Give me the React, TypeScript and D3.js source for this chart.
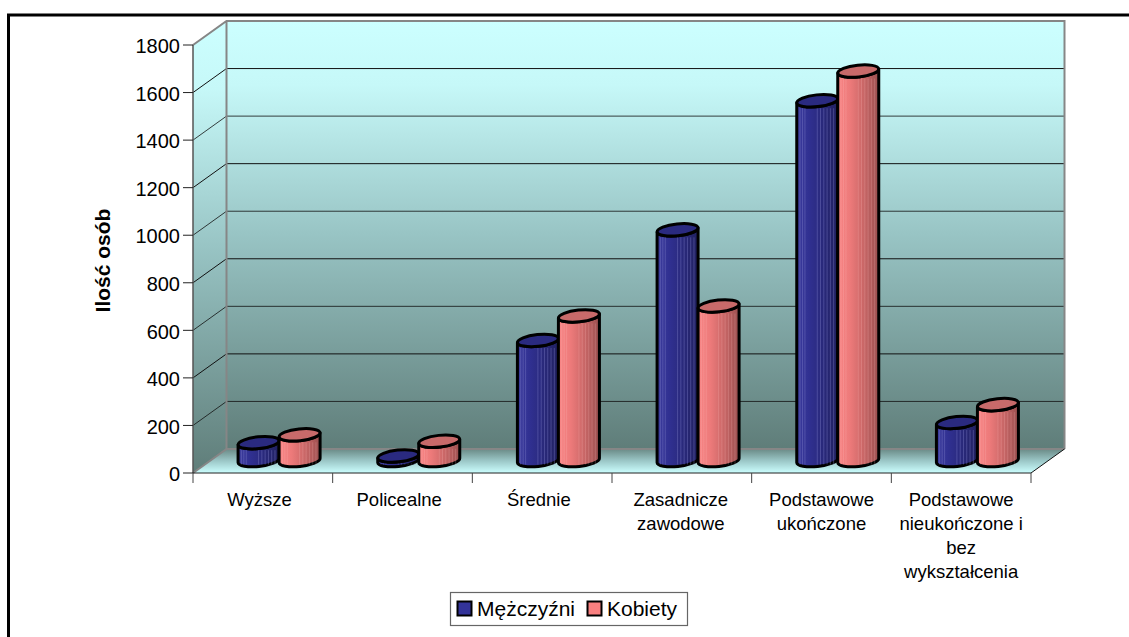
import React from "react";
import * as d3 from "d3";

const categories: string[][] = [
  ["Wyższe"],
  ["Policealne"],
  ["Średnie"],
  ["Zasadnicze", "zawodowe"],
  ["Podstawowe", "ukończone"],
  ["Podstawowe", "nieukończone i", "bez", "wykształcenia"],
];
const men = [75, 19, 505, 970, 1513, 160];
const women = [108, 81, 608, 650, 1638, 235];
const ticks = [0, 200, 400, 600, 800, 1000, 1200, 1400, 1600, 1800];
const seriesNames = ["Mężczyźni", "Kobiety"];
const seriesColors = ["#333399", "#f98080"];
const topColors = ["#2a2a80", "#c86a6a"];
const stripeOffsets = [0.08, 0.14, 0.2, 0.5, 0.58, 0.66, 0.74, 0.82, 0.9];

const FONT = "'Liberation Sans', Arial, sans-serif";
const W = 1129, H = 637;
const DX = 33.5, DY = -24;
const x = d3.scaleBand<number>().domain(d3.range(6)).range([193, 1031]);
const y = d3.scaleLinear().domain([0, 1800]).range([473, 45]);
const DEPTH = 12.5;
const labelShift = (i: number) => (i < 3 ? -3.3 : i === 3 ? -1 : 0);

function Cylinder({ cx, value, s }: { cx: number; value: number; s: number }) {
  const rx = 20.5, ry = 5.9, tilt = -6;
  const dy = 2.1;
  const yBase = y(0) - DEPTH;
  const yTop = y(value) - DEPTH;
  const d = `M${cx - rx},${yTop + dy} L${cx - rx},${yBase + dy} A${rx},${ry} ${tilt} 0 0 ${cx + rx},${yBase - dy} L${cx + rx},${yTop - dy} A${rx},${ry} ${tilt} 0 1 ${cx - rx},${yTop + dy} Z`;
  return (
    <g>
      <path d={d} fill={`url(#cyl${s})`} stroke="#000" strokeWidth={3} strokeLinejoin="round" />
      <ellipse
        cx={cx}
        cy={yTop}
        rx={rx}
        ry={ry}
        transform={`rotate(${tilt} ${cx} ${yTop})`}
        fill={topColors[s]}
        stroke="#000"
        strokeWidth={3}
      />
    </g>
  );
}

export default function App() {
  const wallBottom = y(0) + DY;
  const wallTop = y(1800) + DY;
  return (
    <svg width={W} height={H} style={{ position: "absolute", left: 0, top: 0, background: "#fff" }} fontFamily={FONT}>
      <defs>
        <linearGradient id="wall" x1="0" y1="0" x2="0" y2="1">
          <stop offset="0" stopColor="#ccffff" />
          <stop offset="0.15" stopColor="#c6f8f8" />
          <stop offset="0.5" stopColor="#98c4c4" />
          <stop offset="1" stopColor="#5f7d79" />
        </linearGradient>
        <linearGradient id="floor" x1="0" y1="0" x2="0" y2="1">
          <stop offset="0" stopColor="#6a8a86" />
          <stop offset="0.5" stopColor="#9cc8c8" />
          <stop offset="1" stopColor="#ccffff" />
        </linearGradient>
        {seriesColors.map((c, s) => (
          <linearGradient key={s} id={`cyl${s}`} x1="0" y1="0" x2="1" y2="0">
            <stop offset="0" stopColor={d3.interpolateRgb(c, "#fff")(0.05)} />
            <stop offset="0.3" stopColor={d3.interpolateRgb(c, "#000")(0.05)} />
            <stop offset="0.65" stopColor={d3.interpolateRgb(c, "#000")(0.2)} />
            <stop offset="1" stopColor={d3.interpolateRgb(c, "#000")(0.38)} />
          </linearGradient>
        ))}
      </defs>

      <path d={`M8.5,637 L8.5,15 L${W},15`} fill="none" stroke="#000" strokeWidth={3} />

      {/* walls */}
      <polygon
        points={`193,${y(0)} 193,${y(1800)} ${193 + DX},${wallTop} ${193 + DX},${wallBottom}`}
        fill="url(#wall)"
      />
      <rect x={193 + DX} y={wallTop} width={1031 - 193} height={wallBottom - wallTop} fill="url(#wall)" />
      <polygon
        points={`193,${y(0)} ${193 + DX},${wallBottom} ${1031 + DX},${wallBottom} 1031,${y(0)}`}
        fill="url(#floor)"
      />

      {/* gridlines */}
      {ticks.slice(1, -1).map((t) => (
        <path
          key={t}
          d={`M193,${y(t)} L${193 + DX},${y(t) + DY} L${1031 + DX},${y(t) + DY}`}
          fill="none"
          stroke="#111"
          strokeWidth={1}
          opacity={t % 400 === 0 ? 1 : 0.8}
        />
      ))}

      {/* wall edges */}
      <path
        d={`M193,${y(0)} L${193 + DX},${wallBottom} L${1031 + DX},${wallBottom} M193,${y(1800)} L${193 + DX},${wallTop} L${1031 + DX},${wallTop} L${1031 + DX},${wallBottom} M${193 + DX},${wallTop} L${193 + DX},${wallBottom}`}
        fill="none"
        stroke="#868686"
        strokeWidth={2}
      />
      <line x1={193} x2={193} y1={y(1800)} y2={y(0)} stroke="#555" strokeWidth={1.5} />
      <line x1={1031} y1={y(0)} x2={1031 + DX} y2={wallBottom} stroke="#111" strokeWidth={1} />
      <line x1={193} x2={1031} y1={y(0)} y2={y(0)} stroke="#222" strokeWidth={1.2} />

      {/* ticks */}
      {ticks.map((t) => (
        <g key={t}>
          <line x1={183} x2={193} y1={y(t)} y2={y(t)} stroke="#222" strokeWidth={1} />
          <text x={180} y={y(t) + 1} dy="0.36em" textAnchor="end" fontSize={20} fill="#000">
            {t}
          </text>
        </g>
      ))}
      {d3.range(7).map((i) => {
        const px = 193 + (i * (1031 - 193)) / 6;
        return <line key={i} x1={px} x2={px} y1={y(0)} y2={483} stroke="#444" strokeWidth={1} />;
      })}

      {/* cylinders */}
      {categories.map((_, i) => {
        const c = x(i)! + x.bandwidth() / 2 + DX / 2 - 0.5;
        return (
          <g key={i}>
            <Cylinder cx={c - 20.5} value={men[i]} s={0} />
            <g>
              {stripeOffsets.map((o) => (
                <line
                  key={o}
                  x1={c - 41 + o * 41}
                  x2={c - 41 + o * 41}
                  y1={y(men[i]) - DEPTH + 7.5}
                  y2={y(0) - DEPTH + 4}
                  stroke="#8080c8"
                  strokeOpacity={0.4}
                  strokeWidth={1}
                />
              ))}
            </g>
            <Cylinder cx={c + 20.5} value={women[i]} s={1} />
            <g>
              {stripeOffsets.map((o) => (
                <line
                  key={o}
                  x1={c + o * 41}
                  x2={c + o * 41}
                  y1={y(women[i]) - DEPTH + 7.5}
                  y2={y(0) - DEPTH + 4}
                  stroke="#ffc0c0"
                  strokeOpacity={0.22}
                  strokeWidth={1}
                />
              ))}
            </g>
          </g>
        );
      })}

      {/* category labels */}
      {categories.map((lines, i) => (
        <text key={i} textAnchor="middle" fontSize={18.5} fill="#000">
          {lines.map((l, k) => (
            <tspan key={k} x={x(i)! + x.bandwidth() / 2 + labelShift(i)} y={506 + k * 24}>
              {l}
            </tspan>
          ))}
        </text>
      ))}

      <text
        transform="translate(110,260.5) rotate(-90)"
        textAnchor="middle"
        fontSize={21}
        fontWeight="bold"
        fill="#000"
      >
        Ilość osób
      </text>

      {/* legend */}
      <rect x={450.5} y={592.5} width={237} height={33} fill="#fff" stroke="#666" strokeWidth={1.2} />
      {seriesNames.map((n, s) => {
        const sx = [457.5, 587.5][s];
        return (
          <g key={n}>
            <rect x={sx} y={601.5} width={14} height={14} fill={seriesColors[s]} stroke="#000" strokeWidth={2} />
            <text x={sx + 19.5} y={616} fontSize={21} fill="#000">
              {n}
            </text>
          </g>
        );
      })}
    </svg>
  );
}
